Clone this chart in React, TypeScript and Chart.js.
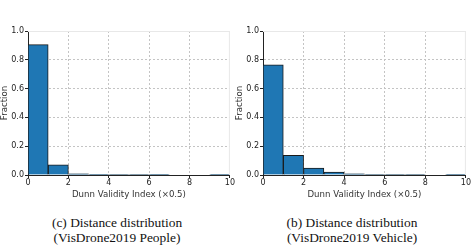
import React, { useEffect, useRef } from "react";
import { Chart, registerables } from "chart.js";
Chart.register(...registerables);

const binCenters = [0.5, 1.5, 2.5, 3.5, 4.5, 5.5, 6.5, 7.5, 8.5, 9.5];
const peopleFractions = [0.905, 0.07, 0.008, 0.002, 0.004, 0.003, 0.001, 0, 0, 0.002];
const vehicleFractions = [0.765, 0.137, 0.048, 0.02, 0.008, 0.004, 0.003, 0.003, 0.0, 0.002];
const xTitle = "Dunn Validity Index (\u00d70.5)";
const yTitle = "Fraction";
const captionsLeft = ["(c) Distance distribution", "(VisDrone2019 People)"];
const captionsRight = ["(b) Distance distribution", "(VisDrone2019 Vehicle)"];

const framePlugin = {
  id: "frame",
  afterDatasetsDraw(chart: any) {
    const { ctx, chartArea: a } = chart;
    ctx.save();
    ctx.strokeStyle = "#e8e8e8";
    ctx.lineWidth = 1;
    ctx.beginPath();
    ctx.moveTo(a.left, a.top + 0.5);
    ctx.lineTo(a.right, a.top + 0.5);
    ctx.moveTo(a.right - 0.5, a.top);
    ctx.lineTo(a.right - 0.5, a.bottom);
    ctx.stroke();
    ctx.restore();
  },
};

function Hist({ values, width }: { values: number[]; width: number }) {
  const ref = useRef<HTMLCanvasElement>(null);
  useEffect(() => {
    const tickFont = { family: "'DejaVu Sans'", size: 8 };
    const titleFont = { family: "DejaVu Sans", size: 8.6 };
    const gridColor = (c: any) => (c.index === 0 || c.index === 5 ? "rgba(0,0,0,0)" : "#c4c4c4");
    const chart = new Chart(ref.current!, {
      type: "bar",
      data: {
        datasets: [
          {
            data: binCenters.map((x, i) => ({ x, y: values[i] })),
            backgroundColor: "#1f77b4",
            borderColor: "#1a1a1a",
            borderWidth: 1,
            barPercentage: 1,
            categoryPercentage: 1,
          },
        ],
      },
      options: {
        responsive: false,
        animation: false,
        devicePixelRatio: 1,
        layout: { padding: { top: 31, right: 5, left: 0, bottom: 0 } },
        plugins: { legend: { display: false }, tooltip: { enabled: false } },
        scales: {
          x: {
            type: "linear",
            offset: false,
            min: 0,
            max: 10,
            ticks: { stepSize: 2, color: "#222", font: tickFont, padding: 0, maxRotation: 0 },
            grid: { offset: false, color: gridColor, tickColor: "#222", tickLength: 3 },
            border: { color: "#222", width: 1, dash: [2, 2] },
            title: { display: true, text: xTitle, color: "#333", font: titleFont, padding: { top: 0, bottom: 0 } },
            afterFit: (s: any) => { s.height = 25; },
          },
          y: {
            min: 0,
            max: 1,
            ticks: { stepSize: 0.2, color: "#222", font: tickFont, padding: 1, callback: (v: any) => Number(v).toFixed(1) },
            grid: { color: gridColor, tickColor: "#222", tickLength: 3 },
            border: { color: "#222", width: 1, dash: [2, 2] },
            title: { display: true, text: yTitle, color: "#333", font: titleFont, padding: 0 },
            afterFit: (s: any) => { s.width = 28; },
          },
        },
      },
      plugins: [framePlugin],
    });
    return () => chart.destroy();
  }, [values]);
  return <canvas ref={ref} width={width} height={200} style={{ display: "block" }} />;
}

function Caption({ lines, left, width }: { lines: string[]; left: number; width: number }) {
  return (
    <div
      style={{
        position: "absolute",
        left,
        top: 215,
        width,
        textAlign: "center",
        fontFamily: "'Liberation Serif', serif",
        fontSize: 13.4,
        lineHeight: "15px",
        color: "#111",
      }}
    >
      {lines.map((l, i) => (
        <div key={i}>{l}</div>
      ))}
    </div>
  );
}

export default function App() {
  return (
    <div style={{ position: "absolute", left: 0, top: 0, width: 471, height: 252, background: "#fff" }}>
      <div style={{ position: "absolute", left: 0, top: 0 }}>
        <Hist values={peopleFractions} width={235} />
      </div>
      <div style={{ position: "absolute", left: 235, top: 0 }}>
        <Hist values={vehicleFractions} width={236} />
      </div>
      <Caption lines={captionsLeft} left={0} width={234} />
      <Caption lines={captionsRight} left={235} width={234} />
    </div>
  );
}
